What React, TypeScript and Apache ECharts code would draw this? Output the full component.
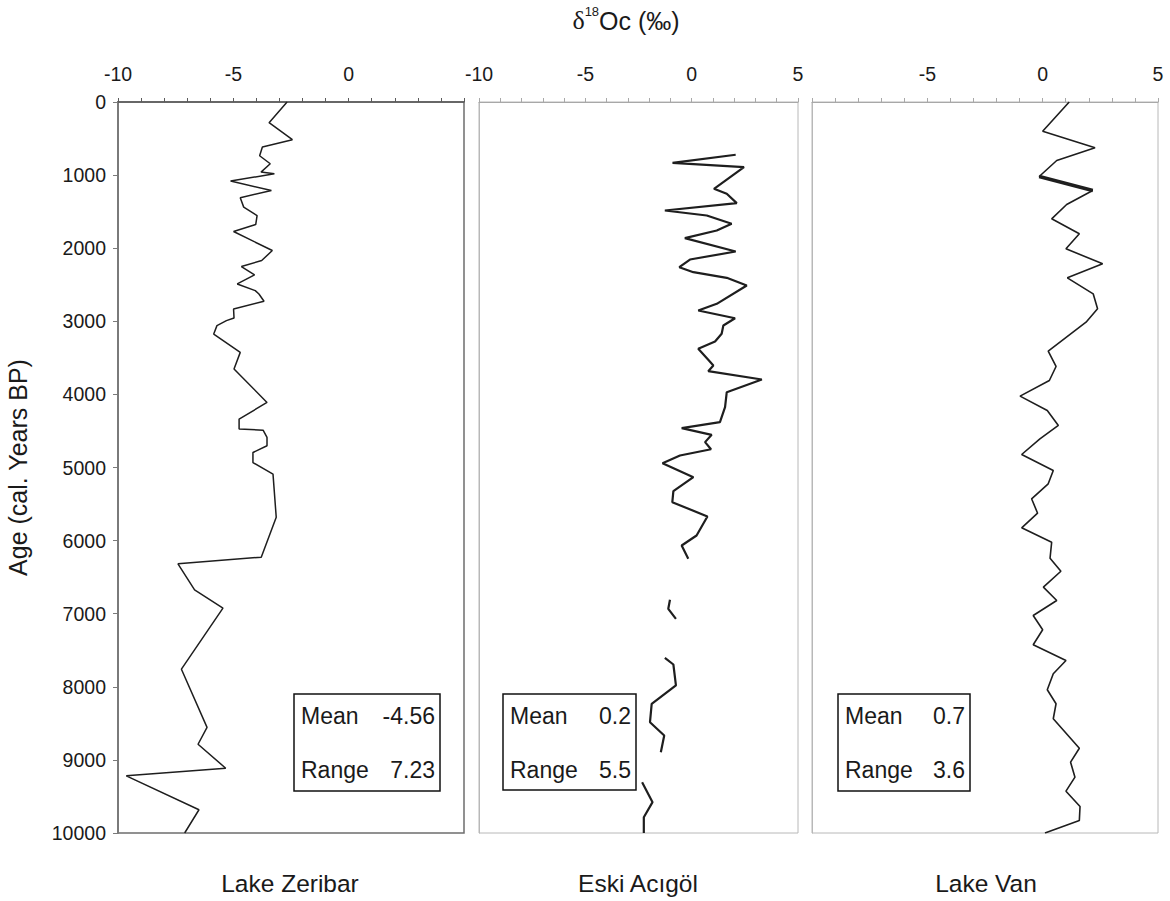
import React, { useEffect, useRef } from "react";
import * as echarts from "echarts";

// ---- data ----
const lakeNames = ["Lake Zeribar", "Eski Acıgöl", "Lake Van"];
const lakeMeans = ["-4.56", "0.2", "0.7"];
const lakeRanges = ["7.23", "5.5", "3.6"];

const zeribarAge = [0, 283, 516, 616, 735, 845, 959, 982, 1082, 1210, 1310, 1438, 1553, 1676, 1772, 2032, 2169, 2251, 2365, 2489, 2580, 2626, 2726, 2831, 2954, 2991, 3059, 3174, 3425, 3653, 4110, 4338, 4475, 4489, 4589, 4703, 4795, 4932, 5091, 5682, 6227, 6318, 6673, 6923, 7759, 8555, 8786, 9114, 9218, 9682, 10000];
const zeribarIso = [-2.67, -3.45, -2.44, -3.74, -3.86, -3.4, -3.8, -3.22, -5.12, -3.35, -4.7, -4.55, -3.97, -4.03, -4.99, -3.31, -3.77, -4.65, -4.08, -4.83, -4.05, -3.89, -3.67, -4.99, -4.97, -5.3, -5.71, -5.85, -4.7, -4.97, -3.54, -4.75, -4.75, -3.71, -3.54, -3.54, -4.15, -4.15, -3.28, -3.14, -3.79, -7.4, -6.68, -5.45, -7.25, -6.14, -6.53, -5.33, -9.64, -6.49, -7.11];

const eskiAge1 = [722, 832, 892, 1188, 1256, 1384, 1484, 1553, 1666, 1758, 1863, 2045, 2155, 2260, 2328, 2405, 2510, 2761, 2852, 2958, 3057, 3171, 3277, 3376, 3527, 3605, 3682, 3796, 3970, 4175, 4380, 4462, 4553, 4653, 4750, 4836, 4941, 5133, 5324, 5474, 5670, 5930, 6067, 6249];
const eskiIso1 = [2.07, -0.9, 2.46, 1.05, 1.65, 2.12, -1.26, 0.71, 1.88, 1.18, -0.32, 2.07, -0.08, -0.58, 0.08, 1.65, 2.59, 1.18, 0.31, 2.04, 1.49, 1.41, 1.1, 0.31, 0.78, 1.02, 0.78, 3.3, 1.65, 1.57, 1.33, -0.47, 0.94, 0.63, 0.91, -0.55, -1.37, 0.08, -0.86, -0.91, 0.74, 0.23, -0.47, -0.16];
const eskiAge2 = [6810, 6933, 7070];
const eskiIso2 = [-1.02, -1.1, -0.74];
const eskiAge3 = [7603, 7695, 7982, 8233, 8484, 8666, 8895];
const eskiIso3 = [-1.26, -0.86, -0.74, -1.88, -1.96, -1.29, -1.45];
const eskiAge4 = [9305, 9578, 9784, 10000];
const eskiIso4 = [-2.33, -1.84, -2.25, -2.25];

const vanAge = [0, 400, 627, 800, 1019, 1210, 1402, 1598, 1803, 2008, 2213, 2405, 2624, 2829, 3012, 3409, 3618, 3810, 4024, 4220, 4425, 4608, 4822, 5041, 5223, 5428, 5625, 5825, 6022, 6241, 6419, 6637, 6819, 7025, 7220, 7425, 7640, 7822, 8041, 8232, 8437, 8840, 9031, 9236, 9428, 9637, 9829, 10000];
const vanIso = [1.15, 0.0, 2.27, 0.61, -0.15, 2.17, 1.04, 0.39, 1.59, 1.01, 2.6, 1.07, 2.19, 2.38, 1.88, 0.24, 0.58, 0.29, -0.98, 0.2, 0.68, -0.12, -0.91, 0.46, 0.24, -0.48, -0.22, -0.91, 0.39, 0.32, 0.79, 0.03, 0.61, -0.41, 0.0, -0.41, 1.01, 0.46, 0.2, 0.58, 0.46, 1.59, 1.21, 1.4, 1.01, 1.62, 1.59, 0.1];
const vanBoldIdx = [4, 5];

const pairs = (iso: number[], age: number[]) => iso.map((v, i) => [v, age[i]]);

const FONT = "Liberation Sans, Arial, sans-serif";
const TXT = "#1a1a1a";

export default function App() {
  const ref = useRef<HTMLDivElement>(null);
  useEffect(() => {
    if (!ref.current) return;
    const chart = echarts.init(ref.current, undefined, { renderer: "svg" });

    const grids = [
      { left: 118, top: 102, width: 346, height: 731, show: true, borderColor: "#6e6e6e", borderWidth: 1.5 },
      { left: 479, top: 102, width: 319, height: 731, show: true, borderColor: "#b8b8b8", borderWidth: 1 },
      { left: 812, top: 102, width: 346, height: 731, show: true, borderColor: "#b8b8b8", borderWidth: 1 },
    ];
    const axisColor = ["#5a5a5a", "#a8a8a8", "#a8a8a8"];

    const xAxis = grids.map((_, i) => ({
      type: "value",
      gridIndex: i,
      position: "top",
      min: -10,
      max: 5,
      interval: 5,
      axisLine: { show: true, onZero: false, lineStyle: { color: axisColor[i], width: i === 0 ? 1.5 : 1 } },
      axisTick: { show: true, length: 4, lineStyle: { color: axisColor[i] } },
      minorTick: { show: true, splitNumber: 5, length: 4, lineStyle: { color: axisColor[i] } },
      splitLine: { show: false },
      axisLabel: {
        fontSize: 19.5,
        color: TXT,
        fontFamily: FONT,
        margin: 18,
        showMinLabel: i !== 2,
        showMaxLabel: i !== 0,
        formatter: (v: number) => String(v),
      },
    }));

    const yAxis = grids.map((_, i) => ({
      type: "value",
      gridIndex: i,
      inverse: true,
      min: 0,
      max: 10000,
      interval: 1000,
      axisLine: { show: true, onZero: false, lineStyle: { color: i === 0 ? "#7a7a7a" : "#b8b8b8", width: i === 0 ? 2 : 1 } },
      axisTick: { show: i === 0, length: 5, lineStyle: { color: "#7a7a7a" } },
      splitLine: { show: false },
      axisLabel: { show: i === 0, fontSize: 19.5, color: TXT, fontFamily: FONT, margin: 12, formatter: (v: number) => String(v) },
      name: i === 0 ? "Age (cal. Years BP)" : "",
      nameLocation: "middle",
      nameGap: 88,
      nameTextStyle: { fontSize: 25, color: TXT, fontFamily: FONT },
    }));

    const lineSeries = (idx: number, data: number[][], width: number) => ({
      type: "line",
      xAxisIndex: idx,
      yAxisIndex: idx,
      data,
      symbol: "none",
      showSymbol: false,
      silent: true,
      lineStyle: { color: "#1e1e1e", width },
      z: 3,
    });

    const series = [
      lineSeries(0, pairs(zeribarIso, zeribarAge), 1.5),
      lineSeries(1, pairs(eskiIso1, eskiAge1), 2.2),
      lineSeries(1, pairs(eskiIso2, eskiAge2), 2.2),
      lineSeries(1, pairs(eskiIso3, eskiAge3), 2.2),
      lineSeries(1, pairs(eskiIso4, eskiAge4), 2.2),
      lineSeries(2, pairs(vanIso, vanAge), 1.6),
      lineSeries(2, vanBoldIdx.map((k) => [vanIso[k], vanAge[k]]), 3.6),
    ];

    const boxes = [
      { x: 294, y: 694, w: 146, h: 97 },
      { x: 503, y: 694, w: 133, h: 96 },
      { x: 838, y: 694, w: 132, h: 97 },
    ];
    const bottomX = [290, 638, 986];

    const graphic: any[] = [
      {
        type: "text",
        x: 626,
        y: 19,
        z: 10,
        style: {
          text: "{d|δ}{s|18}{o|Oc (‰)}",
          align: "center",
          verticalAlign: "middle",
          rich: {
            d: { fontFamily: "Liberation Serif, Times New Roman, serif", fontSize: 26, fill: TXT, lineHeight: 28, verticalAlign: "bottom" },
            s: { fontFamily: FONT, fontSize: 13, fill: TXT, lineHeight: 28, verticalAlign: "top" },
            o: { fontFamily: FONT, fontSize: 25, fill: TXT, lineHeight: 28, verticalAlign: "bottom" },
          },
        },
      },
    ];
    lakeNames.forEach((name, i) => {
      graphic.push({
        type: "text",
        x: bottomX[i],
        y: 883,
        z: 10,
        style: { text: name, fontSize: 24.5, fontFamily: FONT, fill: TXT, align: "center", verticalAlign: "middle" },
      });
      const b = boxes[i];
      graphic.push({
        type: "group",
        z: 10,
        children: [
          { type: "rect", z: 10, shape: { x: b.x, y: b.y, width: b.w, height: b.h }, style: { fill: "#fff", stroke: "#111", lineWidth: 1.5 } },
          { type: "text", z: 11, x: b.x + 7, y: b.y + 22, style: { text: "Mean", fontSize: 23, fontFamily: FONT, fill: TXT, verticalAlign: "middle" } },
          { type: "text", z: 11, x: b.x + b.w - 5, y: b.y + 22, style: { text: lakeMeans[i], fontSize: 23, fontFamily: FONT, fill: TXT, align: "right", verticalAlign: "middle" } },
          { type: "text", z: 11, x: b.x + 7, y: b.y + 76, style: { text: "Range", fontSize: 23, fontFamily: FONT, fill: TXT, verticalAlign: "middle" } },
          { type: "text", z: 11, x: b.x + b.w - 5, y: b.y + 76, style: { text: lakeRanges[i], fontSize: 23, fontFamily: FONT, fill: TXT, align: "right", verticalAlign: "middle" } },
        ],
      });
    });

    chart.setOption({
      animation: false,
      backgroundColor: "#ffffff",
      grid: grids,
      xAxis,
      yAxis,
      series,
      graphic,
    } as any);

    return () => chart.dispose();
  }, []);

  return <div ref={ref} style={{ position: "fixed", left: 0, top: 0, width: 1170, height: 901 }} />;
}
